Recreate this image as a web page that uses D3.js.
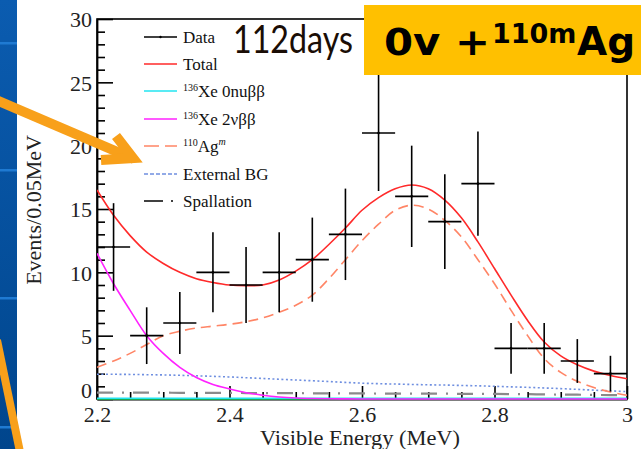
<!DOCTYPE html>
<html>
<head>
<meta charset="utf-8">
<script src="https://cdn.jsdelivr.net/npm/d3@7"></script>
<style>
  html, body { margin: 0; padding: 0; background: #fff; }
  svg { display: block; }
</style>
</head>
<body>
<svg id="chart" width="641" height="449"></svg>
<script>
// Measured spectrum: bin centres (MeV), counts per 0.05 MeV and their errors
const binCenters = [2.225, 2.275, 2.325, 2.375, 2.425, 2.475, 2.525, 2.575,
                    2.625, 2.675, 2.725, 2.775, 2.825, 2.875, 2.925, 2.975];
const counts     = [12, 5, 6, 10, 9, 10, 11, 13, 21, 16, 14, 17, 4, 4, 3, 2];
const countErr   = [3.46, 2.24, 2.45, 3.16, 3.0, 3.16, 3.32, 3.61,
                    4.58, 4.0, 3.74, 4.12, 2.0, 2.0, 1.73, 1.41];
const binHalfWidth = 0.025;

// Fit components sampled on a common energy grid (MeV)
const fitEnergy = [2.2, 2.225, 2.25, 2.275, 2.3, 2.325, 2.35, 2.375, 2.4, 2.425, 2.45,
                   2.475, 2.5, 2.525, 2.55, 2.575, 2.6, 2.625, 2.65, 2.675, 2.7, 2.725,
                   2.75, 2.775, 2.8, 2.825, 2.85, 2.875, 2.9, 2.925, 2.95, 2.975, 3.0];
const totalFit   = [16.5, 14.5, 12.9, 11.6, 10.7, 10.0, 9.5, 9.2, 9.0, 8.95, 9.0,
                    9.4, 10.1, 11.0, 12.2, 13.5, 14.9, 15.9, 16.6, 16.9, 16.6, 15.7,
                    14.3, 12.4, 10.3, 8.2, 6.2, 4.5, 3.4, 2.7, 2.2, 1.85, 1.6];
const xe0nu      = [0.05, 0.05, 0.05, 0.05, 0.05, 0.05, 0.05, 0.05, 0.05, 0.05, 0.05,
                    0.05, 0.05, 0.05, 0.05, 0.05, 0.05, 0.05, 0.05, 0.05, 0.05, 0.05,
                    0.05, 0.05, 0.05, 0.05, 0.05, 0.05, 0.05, 0.05, 0.05, 0.05, 0.05];
const xe2nu      = [11.5, 9.1, 7.0, 5.0, 3.6, 2.5, 1.7, 1.15, 0.8, 0.5, 0.3,
                    0.16, 0.08, 0.04, 0.02, 0.01, 0.0, 0.0, 0.0, 0.0, 0.0, 0.0,
                    0.0, 0.0, 0.0, 0.0, 0.0, 0.0, 0.0, 0.0, 0.0, 0.0, 0.0];
const ag110m     = [2.5, 3.0, 3.6, 4.3, 5.0, 5.35, 5.6, 5.75, 5.9, 6.1, 6.4,
                    6.85, 7.4, 8.2, 9.5, 11.0, 12.5, 13.8, 14.9, 15.3, 15.0, 14.1,
                    12.8, 11.0, 9.1, 7.0, 5.0, 3.2, 2.1, 1.4, 0.9, 0.55, 0.3];
const externalBG = [1.95, 1.95, 1.94, 1.92, 1.9, 1.87, 1.83, 1.79, 1.74, 1.68, 1.62,
                    1.56, 1.5, 1.44, 1.38, 1.31, 1.25, 1.21, 1.18, 1.15, 1.12, 1.1,
                    1.07, 1.04, 1.0, 0.96, 0.92, 0.87, 0.82, 0.76, 0.7, 0.64, 0.58];
const spallation = [0.5, 0.5, 0.5, 0.5, 0.5, 0.49, 0.49, 0.48, 0.48, 0.47, 0.47,
                    0.46, 0.46, 0.45, 0.45, 0.44, 0.44, 0.43, 0.43, 0.42, 0.42, 0.42,
                    0.41, 0.41, 0.4, 0.39, 0.38, 0.36, 0.35, 0.34, 0.32, 0.31, 0.3];
const minorBG    = [0, 0, 0, 0, 0, 0, 0, 0, 0, 0, 0,
                    0, 0, 0, 0, 0, 0, 0, 0, 0, 0, 0,
                    0, 0, 0, 0, 0, 0, 0, 0, 0, 0, 0];

// Axis ticks
const xMajorTicks = [2.2, 2.4, 2.6, 2.8, 3.0];
const xTickLabels = ["2.2", "2.4", "2.6", "2.8", "3"];
const xMinorTicks = [2.25, 2.3, 2.35, 2.45, 2.5, 2.55, 2.65, 2.7, 2.75, 2.85, 2.9, 2.95];
const yMajorTicks = [0, 5, 10, 15, 20, 25, 30];
const yMinorTicks = [1, 2, 3, 4, 6, 7, 8, 9, 11, 12, 13, 14, 16, 17, 18, 19,
                     21, 22, 23, 24, 26, 27, 28, 29];

// Legend entries
const legendLabels = ["Data", "Total", "Xe 0nu\u03b2\u03b2", "Xe 2\u03bd\u03b2\u03b2", "Ag", "External BG", "Spallation"];

const svg = d3.select("#chart");
const serif = "'Liberation Serif', 'Times New Roman', serif";

// Slide background: blue side strip
const defs = svg.append("defs");
const grad = defs.append("linearGradient").attr("id", "strip").attr("x1", 0).attr("y1", 0).attr("x2", 0).attr("y2", 1);
grad.append("stop").attr("offset", "0%").attr("stop-color", "#0b5cb0");
grad.append("stop").attr("offset", "100%").attr("stop-color", "#00458c");
svg.append("rect").attr("x", 0).attr("y", 0).attr("width", 17).attr("height", 449).attr("fill", "url(#strip)");
[43, 170, 298, 427].forEach(yy => {
  svg.append("rect").attr("x", 0).attr("y", yy - 1).attr("width", 17).attr("height", 2.5).attr("fill", "#1f7ad2");
});

const x = d3.scaleLinear().domain([2.2, 3.0]).range([97, 627]);
const y = d3.scaleLinear().domain([0, 30]).range([399, 19]);

defs.append("clipPath").attr("id", "plotClip")
  .append("rect").attr("x", 97).attr("y", 19).attr("width", 530).attr("height", 381);

// Frame
svg.append("rect").attr("x", 97).attr("y", 19).attr("width", 530).attr("height", 380)
  .attr("fill", "none").attr("stroke", "#000").attr("stroke-width", 1.6);

// Y axis (ticks pointing inward)
const yAxis = svg.append("g").attr("transform", "translate(97,0)")
  .call(d3.axisLeft(y).tickValues(yMajorTicks).tickSizeInner(-16).tickSizeOuter(0).tickPadding(5));
svg.append("g").attr("transform", "translate(97,0)")
  .call(d3.axisLeft(y).tickValues(yMinorTicks).tickSizeInner(-8).tickSizeOuter(0).tickFormat(""))
  .call(g => g.select(".domain").remove());

// X axis (ticks pointing inward)
const xAxis = svg.append("g").attr("transform", "translate(0,399)")
  .call(d3.axisBottom(x).tickValues(xMajorTicks).tickSizeInner(-13).tickSizeOuter(0).tickPadding(7.5)
    .tickFormat((d, i) => xTickLabels[i]));
svg.append("g").attr("transform", "translate(0,399)")
  .call(d3.axisBottom(x).tickValues(xMinorTicks).tickSizeInner(-7).tickSizeOuter(0).tickFormat(""))
  .call(g => g.select(".domain").remove());

svg.selectAll(".tick line").attr("stroke", "#000").attr("stroke-width", 1.6);
svg.selectAll(".domain").attr("stroke", "#000").attr("stroke-width", 1.8);
svg.selectAll(".tick text").attr("font-family", serif).attr("font-size", 22).attr("fill", "#222");
yAxis.selectAll(".tick text").attr("dy", d => d === 0 ? "-0.07em" : "0.36em");

// Axis titles
svg.append("text").attr("x", 360).attr("y", 445).attr("text-anchor", "middle")
  .attr("font-family", serif).attr("font-size", 20).attr("fill", "#222")
  .attr("textLength", 200).attr("lengthAdjust", "spacingAndGlyphs")
  .text("Visible Energy (MeV)");
svg.append("text").attr("transform", "translate(41,210) rotate(-90)").attr("text-anchor", "middle")
  .attr("font-family", serif).attr("font-size", 22).attr("fill", "#222")
  .text("Events/0.05MeV");

// Fit curves
const plot = svg.append("g").attr("clip-path", "url(#plotClip)");
const curveLine = vals => d3.line()
  .x((d, i) => x(fitEnergy[i]))
  .y(d => y(d))
  .curve(d3.curveCatmullRom.alpha(0.5))(vals);

const styles = [
  { vals: minorBG,    color: "#22cc22", width: 1.6, dash: null },
  { vals: spallation, color: "#8a8a8a", width: 2.2, dash: "16,9,2,9" },
  { vals: externalBG, color: "#6f8fe0", width: 1.6, dash: "2,2.5" },
  { vals: xe0nu,      color: "#22e4f0", width: 1.6, dash: null },
  { vals: xe2nu,      color: "#ff22ff", width: 1.6, dash: null },
  { vals: ag110m,     color: "#ff8566", width: 1.6, dash: "10,6" },
  { vals: totalFit,   color: "#ff2a2a", width: 1.6, dash: null }
];
styles.forEach(s => {
  plot.append("path").attr("d", curveLine(s.vals))
    .attr("fill", "none").attr("stroke", s.color).attr("stroke-width", s.width)
    .attr("stroke-dasharray", s.dash);
});

// Data points with error bars
const pts = svg.append("g");
binCenters.forEach((e, i) => {
  const g = pts.append("g").attr("stroke", "#000").attr("stroke-width", 1.6);
  g.append("line").attr("x1", x(e - binHalfWidth)).attr("x2", x(e + binHalfWidth))
    .attr("y1", y(counts[i])).attr("y2", y(counts[i]));
  g.append("line").attr("x1", x(e)).attr("x2", x(e))
    .attr("y1", y(counts[i] - countErr[i])).attr("y2", y(counts[i] + countErr[i]));
  pts.append("circle").attr("cx", x(e)).attr("cy", y(counts[i])).attr("r", 1.3).attr("fill", "#000");
});

// Legend
const legendY = [37, 64, 91, 119, 146, 174, 201];
const lx0 = 144, lx1 = 177, tx = 183;
const leg = svg.append("g");
const legLine = (i, color, dash, width) => leg.append("line")
  .attr("x1", lx0).attr("x2", lx1).attr("y1", legendY[i]).attr("y2", legendY[i])
  .attr("stroke", color).attr("stroke-width", width || 1.5).attr("stroke-dasharray", dash);
legLine(0, "#000");
leg.append("circle").attr("cx", (lx0 + lx1) / 2).attr("cy", legendY[0]).attr("r", 1.2).attr("fill", "#000");
legLine(1, "#ff2a2a");
legLine(2, "#22e4f0");
legLine(3, "#ff22ff");
legLine(4, "#ff8566", "15,6");
legLine(5, "#6f8fe0", "4,2");
leg.append("line").attr("x1", lx0).attr("x2", lx0 + 19).attr("y1", legendY[6]).attr("y2", legendY[6])
  .attr("stroke", "#000").attr("stroke-width", 1.5);
leg.append("circle").attr("cx", 172).attr("cy", legendY[6]).attr("r", 1).attr("fill", "#000");

const legText = i => leg.append("text").attr("x", tx).attr("y", legendY[i] + 6)
  .attr("font-family", serif).attr("font-size", 17).attr("fill", "#111");
legText(0).text(legendLabels[0]);
legText(1).text(legendLabels[1]);
[2, 3].forEach(i => {
  const t = legText(i);
  t.append("tspan").attr("font-size", 10).attr("dy", -6).text("136");
  t.append("tspan").attr("dy", 6).text(legendLabels[i]);
});
{
  const t = legText(4);
  t.append("tspan").attr("font-size", 10).attr("dy", -6).text("110");
  t.append("tspan").attr("dy", 6).text(legendLabels[4]);
  t.append("tspan").attr("font-size", 10).attr("font-style", "italic").attr("dy", -7).text("m");
}
legText(5).text(legendLabels[5]);
legText(6).text(legendLabels[6]);

// Exposure label
svg.append("text").attr("x", 233).attr("y", 53)
  .attr("font-family", "Lato, 'Open Sans', sans-serif").attr("font-size", 38).attr("fill", "#1a0d05")
  .attr("textLength", 120).attr("lengthAdjust", "spacingAndGlyphs")
  .text("112days");

// Highlighted title box
svg.append("rect").attr("x", 364).attr("y", 5).attr("width", 280).attr("height", 70).attr("fill", "#ffc000");
const boxFont = "'DejaVu Sans', Verdana, sans-serif";
svg.append("text").attr("x", 384).attr("y", 55).attr("font-family", boxFont).attr("font-weight", "bold")
  .attr("font-size", 38).attr("fill", "#000")
  .attr("textLength", 106).attr("lengthAdjust", "spacingAndGlyphs").text("0v +");
svg.append("text").attr("x", 492).attr("y", 43).attr("font-family", boxFont).attr("font-weight", "bold")
  .attr("font-size", 27).attr("fill", "#000").text("110m");
svg.append("text").attr("x", 577).attr("y", 55).attr("font-family", boxFont).attr("font-weight", "bold")
  .attr("font-size", 39).attr("fill", "#000").text("Ag");

// Callout arrows
const orange = "#f8a01a";
svg.append("path").attr("d", "M-6,99 L134,159").attr("stroke", orange).attr("stroke-width", 10).attr("fill", "none");
svg.append("path").attr("d", "M116,136 L133,158 L101,160").attr("stroke", orange).attr("stroke-width", 10)
  .attr("fill", "none").attr("stroke-linejoin", "miter");
svg.append("path").attr("d", "M-3,340 L20,452").attr("stroke", orange).attr("stroke-width", 8).attr("fill", "none");
</script>
</body>
</html>
